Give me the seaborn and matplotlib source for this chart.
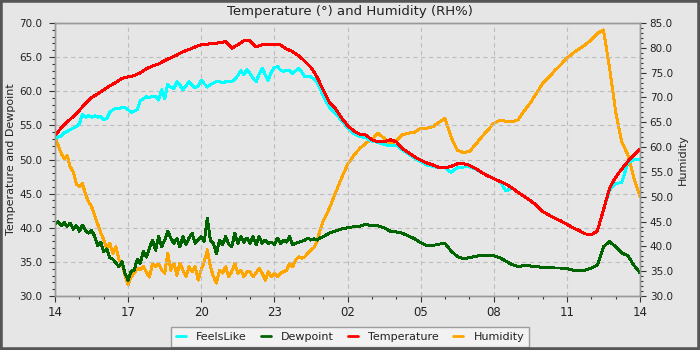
import numpy as np
import pandas as pd
import matplotlib
matplotlib.use("Agg")
import matplotlib.pyplot as plt
from matplotlib.patches import Rectangle
from matplotlib.lines import Line2D
from matplotlib.ticker import MultipleLocator, FormatStrFormatter
import seaborn as sns

# Hour labels along the bottom: 24 hours starting at 14:00
tick_labels = ["14", "17", "20", "23", "02", "05", "08", "11", "14"]

# Temperature, every 15 minutes from 14:00 to 14:00
temperature = [
    53.5, 54.6, 55.5, 56.3, 57.2, 58.2, 59.1, 59.6, 60.2, 60.8,
    61.3, 61.9, 62.1, 62.3, 62.7, 63.3, 63.7, 64.0, 64.5, 64.9,
    65.3, 65.8, 66.1, 66.5, 66.8, 66.9, 67.0, 67.1, 67.3, 66.3,
    66.8, 67.4, 67.4, 66.5, 66.8, 66.9, 66.9, 66.8, 66.2, 65.8,
    65.2, 64.4, 63.5, 62.1, 60.2, 58.4, 57.5, 56.1, 55.0, 54.2,
    53.7, 53.6, 52.9, 52.6, 52.6, 52.9, 52.6, 51.6, 51.0, 50.4,
    49.9, 49.5, 49.2, 48.85, 48.8, 49.0, 49.35, 49.4, 49.15, 48.7,
    48.1, 47.6, 47.2, 46.8, 46.4, 45.8, 45.2, 44.6, 44.0, 43.3,
    42.4, 41.9, 41.4, 41.0, 40.5, 40.0, 39.6, 39.1, 39.0, 39.5,
    42.6, 45.8, 47.4, 48.6, 49.7, 50.7, 51.5,
]

# Gusty afternoon/evening readings: every 7.5 minutes from 14:00 to 00:52
feels_like_pm = [
    53.0, 53.3, 53.4, 53.9, 54.1, 54.4, 54.6, 54.8, 55.2, 56.6,
    56.2, 56.4, 56.2, 56.4, 56.2, 56.3, 55.8, 56.0, 56.9, 57.3,
    57.5, 57.4, 57.7, 57.6, 57.3, 56.9, 57.1, 57.3, 58.6, 58.9,
    59.2, 59.1, 59.3, 59.2, 58.7, 60.2, 58.9, 61.0, 60.6, 60.4,
    61.4, 60.9, 60.2, 60.8, 61.4, 60.9, 60.5, 60.8, 61.6, 61.1,
    60.6, 61.0, 61.2, 61.4, 61.4, 61.2, 61.4, 61.5, 61.4, 61.7,
    62.3, 63.0, 62.4, 63.2, 62.6, 61.9, 61.4, 62.5, 63.4, 62.4,
    61.6, 62.8, 63.5, 63.6, 63.1, 62.9, 63.1, 63.0, 62.6, 63.0,
    63.4, 62.8, 62.1, 62.2, 62.1, 61.8, 61.3, 60.4,
]
dewpoint_pm = [
    40.6, 40.9, 40.3, 40.8, 40.2, 40.7, 39.8, 40.3, 39.5, 40.4,
    39.6, 39.2, 39.6, 38.8, 37.4, 37.9, 36.5, 36.9, 35.6, 35.4,
    34.8, 34.3, 35.0, 33.3, 32.3, 33.6, 33.8, 35.4, 34.8, 36.6,
    35.7, 37.0, 38.2, 36.7, 38.7, 37.2, 38.2, 39.5, 38.5, 37.7,
    38.4, 37.2, 38.7, 37.5, 38.5, 39.2, 37.7, 38.2, 38.7, 38.0,
    41.4, 38.2, 37.7, 36.2, 38.2, 37.5, 38.7, 37.6, 37.2, 39.2,
    37.7, 38.7, 37.9, 38.5, 37.7, 38.7, 37.5, 38.7, 37.7, 38.2,
    37.7, 37.9, 37.5, 38.5, 37.7, 38.2, 37.9, 38.7, 37.5, 37.7,
    37.9, 38.0, 38.2, 38.5, 38.2, 38.4, 38.2, 38.5,
]
humidity_pm = [
    62.0, 60.4, 58.8, 57.6, 58.3, 56.0, 55.0, 52.5, 52.1, 52.7,
    50.5, 49.0, 48.0, 46.2, 44.5, 42.8, 41.3, 39.6, 40.6, 38.6,
    39.9, 37.3, 36.6, 34.0, 32.2, 33.9, 34.6, 35.6, 35.3, 36.0,
    34.8, 33.8, 36.6, 35.9, 36.6, 35.2, 34.6, 38.6, 35.2, 36.6,
    34.2, 36.6, 35.2, 33.9, 35.9, 34.9, 35.9, 33.2, 35.4, 36.9,
    39.3, 35.9, 33.9, 32.6, 35.2, 34.6, 35.9, 33.9, 34.9, 36.6,
    34.6, 35.2, 33.9, 34.9, 34.9, 33.9, 34.6, 35.6, 34.6, 33.2,
    34.9, 33.9, 34.6, 33.9, 34.6, 34.9, 35.2, 36.6, 35.9, 37.3,
    37.9, 37.6, 37.9, 38.6, 39.3, 39.7, 41.0, 43.3,
]

# Calmer night/morning readings: every 15 minutes from 01:00 to 14:00
feels_like_am = [
    59.3, 57.7, 56.8, 55.7, 54.7, 53.8, 53.4, 53.2, 52.7, 52.5,
    52.2, 52.0, 52.1, 51.4, 50.8, 50.2, 49.7, 49.2, 49.0, 48.8,
    48.8, 48.1, 48.8, 48.9, 48.9, 48.6, 48.1, 47.6, 47.2, 46.8,
    45.4, 45.8, 45.2, 44.6, 44.0, 43.3, 42.4, 41.9, 41.4, 41.0,
    40.5, 40.0, 39.6, 39.1, 39.0, 39.5, 42.6, 45.5, 46.5, 46.6,
    49.5, 50.0, 50.0,
]
dewpoint_am = [
    38.7, 39.2, 39.5, 39.8, 40.0, 40.15, 40.2, 40.5, 40.3, 40.3,
    40.0, 39.5, 39.4, 39.2, 38.8, 38.4, 37.8, 37.4, 37.4, 37.6,
    37.7, 36.6, 35.8, 35.5, 35.6, 35.8, 36.0, 35.9, 35.9, 35.6,
    35.1, 34.6, 34.3, 34.5, 34.4, 34.3, 34.2, 34.2, 34.1, 34.1,
    34.0, 33.8, 33.8, 33.8, 34.1, 34.5, 37.2, 38.0, 37.2, 36.3,
    35.9, 34.5, 33.4,
]
humidity_am = [
    45.0, 47.6, 50.7, 53.7, 56.5, 58.3, 59.7, 60.8, 61.5, 62.8,
    61.8, 60.6, 61.2, 62.5, 62.8, 63.0, 63.8, 63.8, 64.1, 65.0,
    65.8, 62.0, 59.4, 58.9, 59.1, 60.5, 62.0, 63.4, 64.8, 65.4,
    65.2, 65.1, 65.5, 67.3, 68.9, 70.8, 72.8, 74.0, 75.4, 76.6,
    77.9, 78.9, 79.8, 80.6, 81.6, 82.9, 83.6, 76.0, 67.2, 61.0,
    58.5, 53.8, 50.0,
]

hours_15 = np.arange(len(temperature)) * 0.25
hours_pm = np.arange(len(dewpoint_pm)) * 0.125
hours_am = 11 + np.arange(len(dewpoint_am)) * 0.25


def frame(name, pm, am):
    return pd.DataFrame({
        "hour": np.concatenate([hours_pm, hours_am]),
        "value": list(pm) + list(am),
        "series": name,
    })


left = pd.concat([
    frame("FeelsLike", feels_like_pm, feels_like_am),
    frame("Dewpoint", dewpoint_pm, dewpoint_am),
    pd.DataFrame({"hour": hours_15, "value": temperature,
                  "series": "Temperature"}),
], ignore_index=True)
right = frame("Humidity", humidity_pm, humidity_am)

order = ["FeelsLike", "Dewpoint", "Temperature", "Humidity"]
colors = {
    "FeelsLike": "#00ffff",
    "Dewpoint": "#006400",
    "Temperature": "#ff0000",
    "Humidity": "#ffa500",
}

sns.set_theme(style="white")
plt.rcParams["font.family"] = ["DejaVu Sans"]
bg = "#e6e6e6"
spine_c = "#999999"
text_c = "#222222"
lw = 1.4

fig = plt.figure(figsize=(7, 3.5), dpi=100, facecolor=bg)
ax = fig.add_axes([55 / 700, 1 - 296 / 350, 585 / 700, 273 / 350])
ax2 = ax.twinx()
# humidity sits underneath the temperature/dewpoint traces
ax.set_zorder(2)
ax2.set_zorder(1)
ax.patch.set_visible(False)
ax2.set_facecolor(bg)

sns.lineplot(data=right, x="hour", y="value", hue="series",
             palette=colors, estimator=None, sort=False, ax=ax2,
             linewidth=lw, legend=False, antialiased=False)
sns.lineplot(data=left, x="hour", y="value", hue="series",
             hue_order=order[:3], palette=colors, estimator=None, sort=False,
             ax=ax, linewidth=lw, legend=False, antialiased=False)

ax.set_xlim(0, 24)
ax.set_ylim(30, 70)
ax2.set_ylim(30, 85)

ax.set_xticks(np.arange(0, 25, 3))
ax.set_xticklabels(tick_labels)
ax.xaxis.set_minor_locator(MultipleLocator(1))
for a in (ax, ax2):
    a.yaxis.set_major_locator(MultipleLocator(5))
    a.yaxis.set_minor_locator(MultipleLocator(1))
    a.yaxis.set_major_formatter(FormatStrFormatter("%.1f"))

ax.set_xlabel("")
ax2.set_xlabel("")
ax.set_ylabel("Temperature and Dewpoint", fontsize=8, color=text_c)
ax2.set_ylabel("Humidity", fontsize=8, color=text_c)
ax.yaxis.set_label_coords(-0.066, 0.5)
ax2.yaxis.set_label_coords(1.064, 0.5)

ax.grid(True, which="major", linestyle=(0, (4, 3)), color="#bdbdbd",
        linewidth=0.8)
ax.set_axisbelow(True)

for a in (ax, ax2):
    for s in a.spines.values():
        s.set_color(spine_c)
        s.set_linewidth(1.0)
    a.tick_params(which="major", length=4, width=0.8, color="#333333",
                  labelsize=7.5, labelcolor=text_c, direction="out")
    a.tick_params(which="minor", length=2.5, width=0.8, color="#333333",
                  direction="out")
ax.tick_params(axis="both", which="both", bottom=True, left=True)
ax.tick_params(axis="y", which="major", pad=5)
ax.tick_params(axis="x", which="major", pad=3, labelsize=8.5)
ax2.tick_params(axis="y", which="both", right=True)
ax2.tick_params(axis="y", which="major", pad=3)

fig.suptitle("Temperature (°) and Humidity (RH%)", fontsize=9.5,
             color=text_c, y=1 - 11 / 350, va="center")

handles = [Line2D([], [], color=colors[n], linewidth=2) for n in order]
leg = fig.legend(handles, order, loc="center",
                 bbox_to_anchor=(0.5, 1 - 337 / 350), ncol=4, fontsize=8,
                 frameon=True, fancybox=False, handlelength=0.9,
                 handletextpad=0.9, columnspacing=1.3, borderpad=0.45,
                 borderaxespad=0)
leg.get_frame().set_facecolor("#f6f6f6")
leg.get_frame().set_edgecolor("#888888")
leg.get_frame().set_linewidth(1.0)
for t in leg.get_texts():
    t.set_color(text_c)

fig.patches.append(Rectangle((0, 0), 1, 1, transform=fig.transFigure,
                             fill=False, edgecolor="#555555", linewidth=4,
                             zorder=10))

fig.savefig("out.png", dpi=100, facecolor=bg)
